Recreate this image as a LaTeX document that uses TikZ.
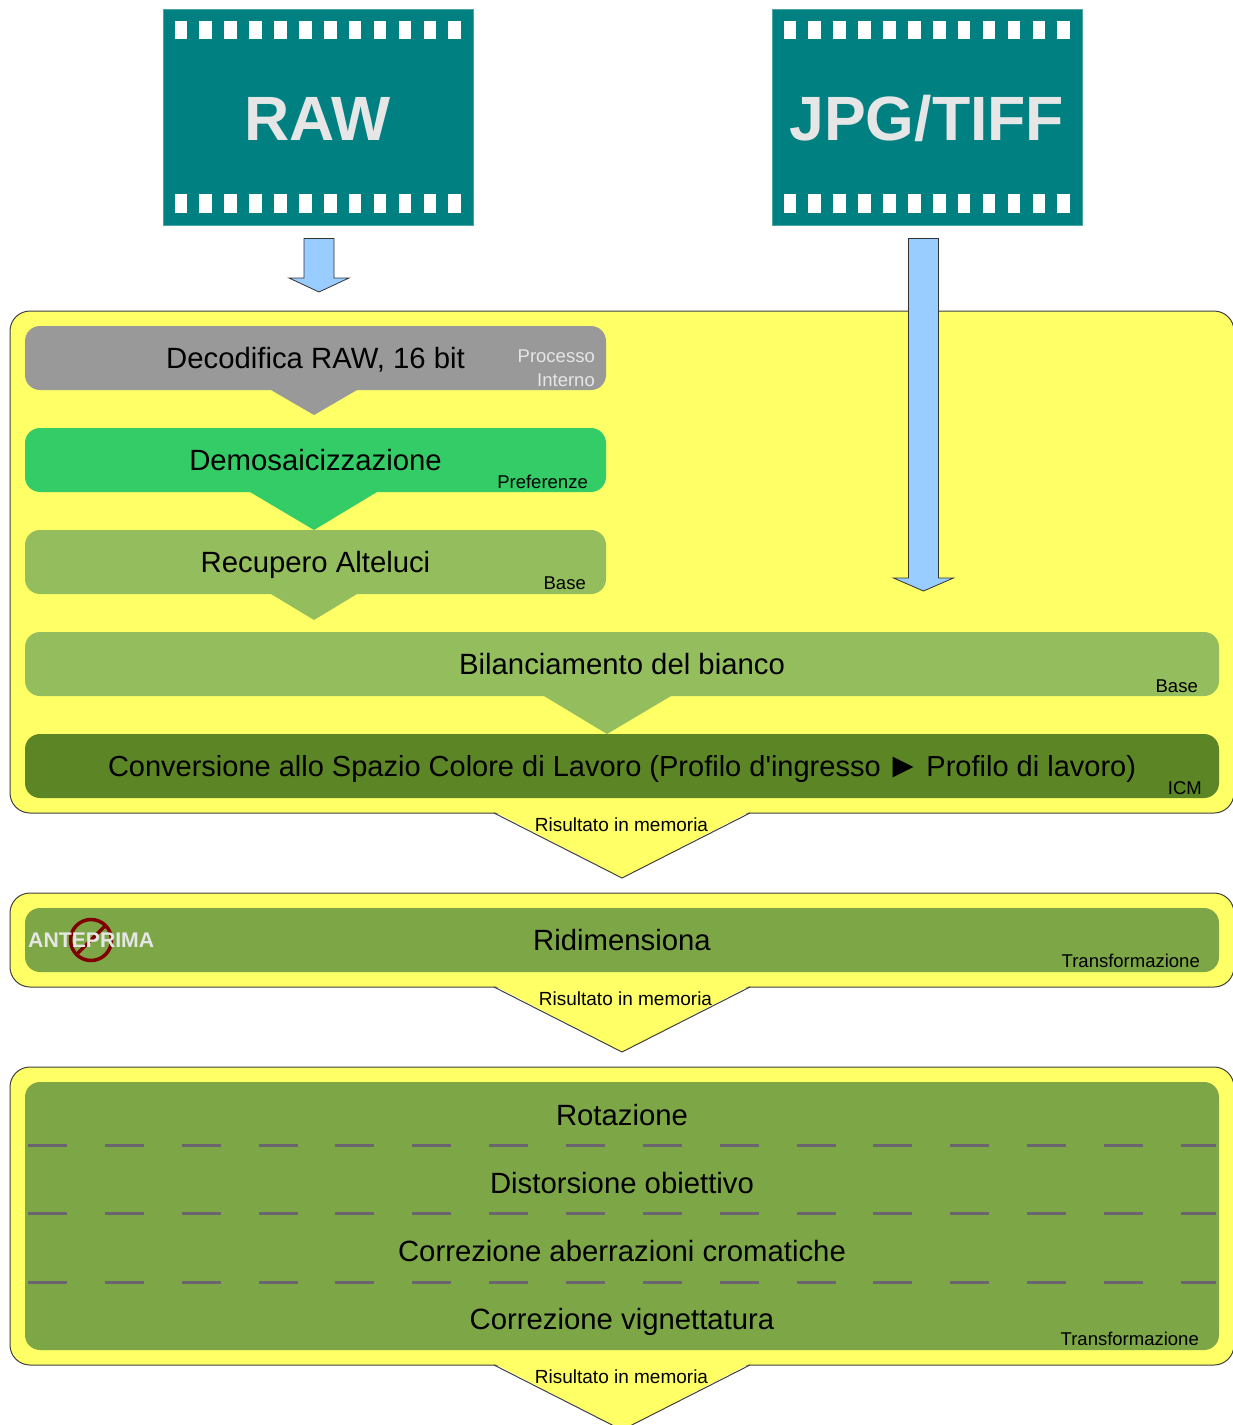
\documentclass[tikz,border=0pt]{standalone}
\usepackage{fontspec}
\setmainfont{Liberation Sans}
\usetikzlibrary{positioning}

\definecolor{filmteal}{HTML}{008080}
\definecolor{filmedge}{HTML}{4DA6A6}
\definecolor{panelyellow}{HTML}{FFFF66}
\definecolor{arrowblue}{HTML}{99CCFF}
\definecolor{procgray}{HTML}{999999}
\definecolor{prefgreen}{HTML}{33CC66}
\definecolor{basegreen}{HTML}{94BD5E}
\definecolor{icmgreen}{HTML}{5C8526}
\definecolor{transgreen}{HTML}{7DA647}
\definecolor{lightgray}{HTML}{E6E6E6}
\definecolor{stopred}{HTML}{800000}
\definecolor{dashgray}{HTML}{6B6570}

\begin{document}
\begin{tikzpicture}[x=1pt,y=-1pt]
          \tikzstyle{film} = [rectangle, draw=filmedge, fill=filmteal, text=lightgray, font=\fontsize{62.6}{64}\selectfont\bfseries, minimum width=310pt, minimum height=216pt, text height=46pt, text depth=0pt, inner sep=0pt, outer sep=0pt]
          \tikzstyle{panel} = [rectangle, rounded corners=20pt, draw=black!75, fill=panelyellow, line width=1pt, minimum width=1224pt, inner sep=0pt, outer sep=0pt]
          \tikzstyle{steptext} = [inner sep=0pt, outer sep=0pt, text=black, text height=20pt, text depth=0pt, font=\fontsize{29.3}{29}\selectfont]
          \tikzstyle{stepbox} = [steptext, rectangle, rounded corners=15pt, minimum height=64pt]
          \tikzstyle{tag} = [anchor=east, inner sep=0pt, font=\fontsize{18.5}{22}\selectfont]
          \tikzstyle{result} = [inner sep=0pt, font=\fontsize{19}{22}\selectfont]
          \tikzstyle{bigarrow} = [draw=black!80, fill=arrowblue, line width=0.8pt, line join=miter]

          \useasboundingbox (0,0) rectangle (1233,1425);

          % Film frames
          \foreach \name / \x / \txt in {raw/317.8/RAW, jpg/926.8/JPG\slash TIFF} {%
            \node[film] (\name) at (\x, 117) {\txt};
            \foreach \i in {0,...,11} {%
              \fill[white] (\x - 143.3 + \i * 24.9, 20.7) rectangle ++(12.6, 18.5);
              \fill[white] (\x - 143.3 + \i * 24.9, 194.2) rectangle ++(12.6, 18.5);
            }
          }

          % Panels
          \node[panel, minimum height=502pt] (main) at (622, 562) {};
          \node[panel, minimum height=94pt] (resize) at (622, 940) {};
          \node[panel, minimum height=298pt] (geom) at (622, 1216) {};

          % Result pointers
          \foreach \name / \ytip in {main/878, resize/1052, geom/1430} {%
            \coordinate (\name left) at ([xshift=-128pt]\name.south -| 622,0);
            \coordinate (\name right) at ([xshift=128pt]\name.south -| 622,0);
            \coordinate (\name tip) at (622, \ytip);
            \fill[panelyellow] ([yshift=1.5pt]\name left) -- (\name tip) -- ([yshift=1.5pt]\name right) -- cycle;
            \draw[black!75, line width=1pt] (\name left) -- (\name tip) -- (\name right);
          }

          % Steps
          \node[stepbox, fill=procgray, minimum width=581pt] (dec) at (315.5, 358) {Decodifica RAW, 16 bit};
          \node[stepbox, fill=prefgreen, minimum width=581pt] (demo) at (315.5, 460) {Demosaicizzazione};
          \node[stepbox, fill=basegreen, minimum width=581pt] (high) at (315.5, 562) {Recupero Alteluci};
          \node[stepbox, fill=basegreen, minimum width=1194pt] (wb) at (622, 664) {Bilanciamento del bianco};
          \node[stepbox, fill=icmgreen, minimum width=1194pt, font=\fontsize{29}{29}\selectfont] (icm) at (622, 766) {Conversione allo Spazio Colore di Lavoro (Profilo d\textquotesingle ingresso\hspace{5pt}{\fontsize{35}{35}\selectfont\raisebox{-1.5pt}{►}}\hspace{6pt}Profilo di lavoro)};
          \node[stepbox, fill=transgreen, minimum width=1194pt] (size) at (622, 940) {Ridimensiona};
          \node[stepbox, fill=transgreen, minimum width=1194pt, minimum height=268pt] (trans) at (622, 1216) {};

          % Step pointers
          \fill[procgray] ([xshift=-44.5pt]dec.south) -- (314, 415) -- ([xshift=41.5pt]dec.south) -- cycle;
          \fill[prefgreen] ([xshift=-65.5pt]demo.south) -- (314, 530) -- ([xshift=61.5pt]demo.south) -- cycle;
          \fill[basegreen] ([xshift=-44.5pt]high.south) -- (314, 620) -- ([xshift=41.5pt]high.south) -- cycle;
          \fill[basegreen] ([xshift=-78pt]wb.south) -- (607, 734) -- ([xshift=49pt]wb.south) -- cycle;

          % Dashed separators
          \foreach \y in {1145, 1213, 1282}
            \draw[dashgray, line width=3pt, dash pattern=on 39pt off 37.85pt] (28, \y) -- (1216, \y);

          \node[steptext] (rot) at (622, 1115) {Rotazione};
          \node[steptext] (dist) at (622, 1183) {Distorsione obiettivo};
          \node[steptext] (ab) at (622, 1251) {Correzione aberrazioni cromatiche};
          \node[steptext] (vign) at (622, 1319) {Correzione vignettatura};

          % Tags
          \node[tag, text=lightgray] (tag1) at (595, 356) {Processo};
          \node[tag, text=lightgray] (tag2) at (595, 380) {Interno};
          \node[tag] (tag3) at (588, 482) {Preferenze};
          \node[tag] (tag4) at (586, 583) {Base};
          \node[tag] (tag5) at (1198, 686) {Base};
          \node[tag] (tag6) at (1202, 788) {ICM};
          \node[tag] (tag7) at (1200, 961) {Transformazione};
          \node[tag] (tag8) at (1199, 1339) {Transformazione};

          \node[result] (res1) at (621.5, 825) {Risultato in memoria};
          \node[result] (res2) at (625.5, 999) {Risultato in memoria};
          \node[result] (res3) at (621.5, 1377) {Risultato in memoria};

          % No preview mark
          \draw[stopred, line width=3.5pt] (91, 940) circle (20.5pt);
          \draw[stopred, line width=3.5pt] (77, 954) -- (105, 926);
          \node[anchor=west, inner sep=0pt, text=lightgray, font=\fontsize{21.2}{21}\selectfont\bfseries] (prev) at (28, 940.5) {ANTEPRIMA};

          % Input arrows
          \foreach \x / \yhead / \ytip in {319/278/292, 923.5/578/591}
            \draw[bigarrow] (\x - 15, 238.5) -- (\x + 15, 238.5) -- (\x + 15, \yhead) -- (\x + 30, \yhead) -- (\x, \ytip) -- (\x - 30, \yhead) -- (\x - 15, \yhead) -- cycle;
\end{tikzpicture}
\end{document}
